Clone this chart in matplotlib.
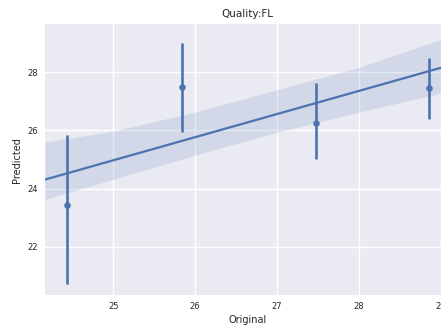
import matplotlib
matplotlib.use('Agg')
import matplotlib.pyplot as plt

# Binned estimates (x_estimator) with confidence intervals
x_means = [24.44, 25.84, 27.47, 28.85]
y_means = [23.44, 27.50, 26.24, 27.46]
y_ci_low = [20.72, 25.93, 25.02, 26.38]
y_ci_high = [25.86, 29.02, 27.62, 28.48]

# Regression line
fit_x = [24.166, 29.12]
fit_y = [24.31, 28.25]

# Confidence band of the regression
band_x = [24.166, 25.0, 26.0, 27.0, 28.0, 29.0, 29.12]
band_low = [23.63, 24.32, 25.15, 25.94, 26.63, 27.28, 27.35]
band_high = [25.60, 25.98, 26.63, 27.40, 28.17, 29.13, 29.25]

x_ticks = [25, 26, 27, 28, 29]
y_ticks = [22, 24, 26, 28]

blue = '#4C72B0'
fig = plt.figure(figsize=(4.41, 3.28), dpi=100)
W, H = 441, 328
left, right, top, bottom = 45, 450.7, 24.3, 295.3
ax = fig.add_axes([left / W, (H - bottom) / H, (right - left) / W, (bottom - top) / H])
ax.set_facecolor('#EAEAF2')
for s in ax.spines.values():
    s.set_visible(False)
ax.grid(True, color='white', linewidth=1.0)
ax.set_axisbelow(True)

ax.fill_between(band_x, band_low, band_high, color=blue, alpha=0.15, linewidth=0)
ax.plot(fit_x, fit_y, color=blue, linewidth=1.6)
for xm, ym, lo, hi in zip(x_means, y_means, y_ci_low, y_ci_high):
    ax.plot([xm, xm], [lo, hi], color=blue, linewidth=1.9, solid_capstyle='butt')
ax.scatter(x_means, y_means, color=blue, s=22, zorder=3, linewidths=0)

ax.set_xlim(24.166, 29.12)
ax.set_ylim(20.33, 29.65)
ax.set_xticks(x_ticks)
ax.set_yticks(y_ticks)
ax.tick_params(length=0, labelsize=6, colors='#262626', pad=5)
ax.set_xlabel('Original', fontsize=7, color='#262626', labelpad=3)
ax.set_ylabel('Predicted', fontsize=7, color='#262626', labelpad=4)
ax.set_title('Quality:FL', fontsize=7.5, color='#262626', pad=5)

fig.savefig('out.png', dpi=100)
